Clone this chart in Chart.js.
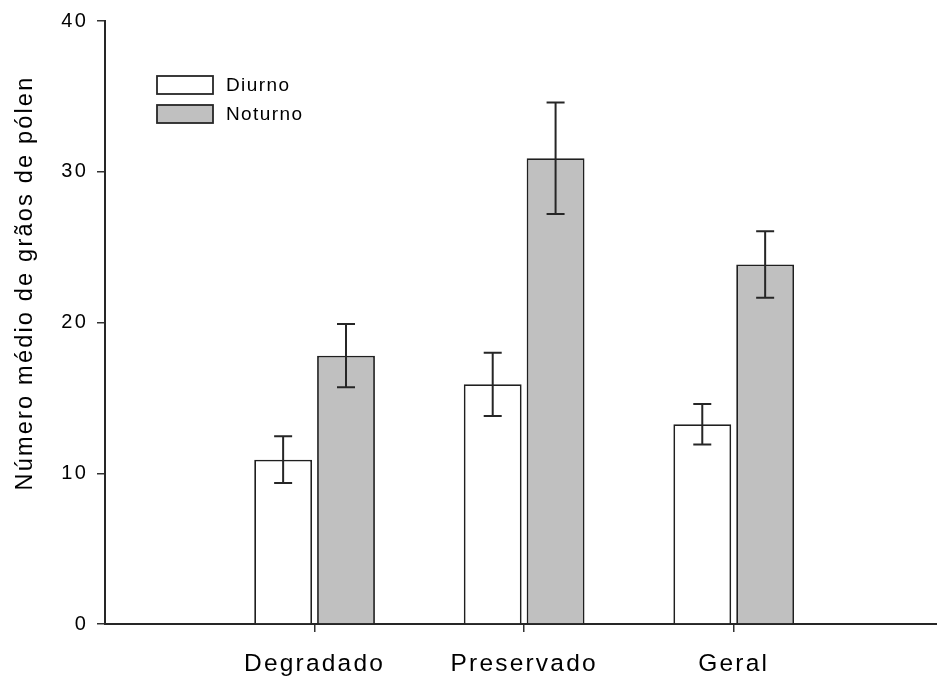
<!DOCTYPE html>
<html lang="pt">
<head>
<meta charset="UTF-8">
<title>Número médio de grãos de pólen</title>
<script src="https://cdn.jsdelivr.net/npm/chart.js"></script>
<style>
  html, body { margin: 0; padding: 0; background: #fff; }
  canvas { display: block; }
</style>
</head>
<body>
<canvas id="chart" width="937" height="682"></canvas>
<script>
// values
const categories = ['Degradado', 'Preservado', 'Geral'];
const seriesNames = ['Diurno', 'Noturno'];
const diurno = [10.9, 15.9, 13.25];
const noturno = [17.8, 30.9, 23.85];
const diurnoErr = [1.55, 2.1, 1.35];
const noturnoErr = [2.1, 3.7, 2.2];
const yTicks = [0, 10, 20, 30, 40];
const yTitle = 'Número médio de grãos de pólen';

const FONT = "'Liberation Sans', Arial, sans-serif";
const INK = '#000000';

// the figure's text is spaced out a little
const spacing = {
    id: 'spacing',
    beforeDraw(chart) { chart.ctx.letterSpacing = '2.2px'; },
    afterDraw(chart) { chart.ctx.letterSpacing = '0px'; }
};

// mean +/- error, placed with the y scale
const errorBars = {
    id: 'errorBars',
    afterDatasetsDraw(chart) {
        const ctx = chart.ctx;
        const y = chart.scales.y;
        ctx.save();
        ctx.strokeStyle = '#262626';
        ctx.lineWidth = 2;
        chart.data.datasets.forEach((ds, i) => {
            chart.getDatasetMeta(i).data.forEach((bar, j) => {
                const v = ds.data[j].y, e = ds.errors[j];
                const top = y.getPixelForValue(v + e);
                const bot = y.getPixelForValue(v - e);
                ctx.beginPath();
                ctx.moveTo(bar.x, top); ctx.lineTo(bar.x, bot);
                ctx.moveTo(bar.x - 9, top); ctx.lineTo(bar.x + 9, top);
                ctx.moveTo(bar.x - 9, bot); ctx.lineTo(bar.x + 9, bot);
                ctx.stroke();
            });
        });
        ctx.restore();
    }
};

// boxed legend in the upper left of the plot, plus the y axis title
const decorations = {
    id: 'decorations',
    afterDraw(chart) {
        const ctx = chart.ctx;
        const area = chart.chartArea;
        ctx.save();
        ctx.letterSpacing = '1.4px';
        ctx.font = '19px ' + FONT;
        ctx.textBaseline = 'middle';
        chart.data.datasets.forEach((ds, i) => {
            const bx = area.left + 52, by = area.top + 55 + i * 29;
            ctx.fillStyle = ds.backgroundColor;
            ctx.fillRect(bx, by, 56, 18);
            ctx.strokeStyle = '#262626';
            ctx.lineWidth = 1.8;
            ctx.strokeRect(bx, by, 56, 18);
            ctx.fillStyle = INK;
            ctx.fillText(ds.label, bx + 69, by + 10);
        });

        ctx.letterSpacing = '2.2px';
        ctx.font = '23.5px ' + FONT;
        ctx.translate(26, 283);
        ctx.rotate(-Math.PI / 2);
        ctx.textAlign = 'center';
        ctx.textBaseline = 'middle';
        ctx.fillStyle = INK;
        ctx.fillText(yTitle, 0, 0);
        ctx.restore();
    }
};

const toPoints = vals => vals.map((v, i) => ({ x: i + 1, y: v }));

new Chart(document.getElementById('chart'), {
    type: 'bar',
    data: {
        datasets: [
            {
                label: seriesNames[0],
                data: toPoints(diurno),
                errors: diurnoErr,
                backgroundColor: '#ffffff',
                borderColor: '#1f1f1f',
                borderWidth: 1.8
            },
            {
                label: seriesNames[1],
                data: toPoints(noturno),
                errors: noturnoErr,
                backgroundColor: '#c0c0c0',
                borderColor: '#1f1f1f',
                borderWidth: 1.8
            }
        ]
    },
    options: {
        responsive: false,
        animation: false,
        layout: { padding: { left: 0, right: 0, top: 20, bottom: 0 } },
        categoryPercentage: 0.6,
        barPercentage: 0.92,
        plugins: {
            legend: { display: false },
            tooltip: { enabled: false }
        },
        scales: {
            x: {
                type: 'linear',
                offset: false,
                min: 0,
                max: 3.97,
                afterBuildTicks: s => { s.ticks = categories.map((c, i) => ({ value: i + 1 })); },
                afterFit: s => { s.height = 58; },
                grid: { offset: false, drawOnChartArea: false, tickLength: 8, color: '#333', lineWidth: 1.5 },
                border: { color: '#262626', width: 2 },
                ticks: {
                    callback: v => categories[v - 1],
                    font: { family: FONT, size: 24.5 },
                    color: INK,
                    padding: 18,
                    maxRotation: 0
                }
            },
            y: {
                min: 0,
                max: 40,
                afterBuildTicks: s => { s.ticks = yTicks.map(v => ({ value: v })); },
                afterFit: s => { s.width = 105; },
                grid: { drawOnChartArea: false, tickLength: 8, color: '#333', lineWidth: 1.5 },
                border: { color: '#262626', width: 2 },
                ticks: {
                    font: { family: FONT, size: 20 },
                    color: INK,
                    padding: 9
                }
            }
        }
    },
    plugins: [spacing, errorBars, decorations]
});
</script>
</body>
</html>
